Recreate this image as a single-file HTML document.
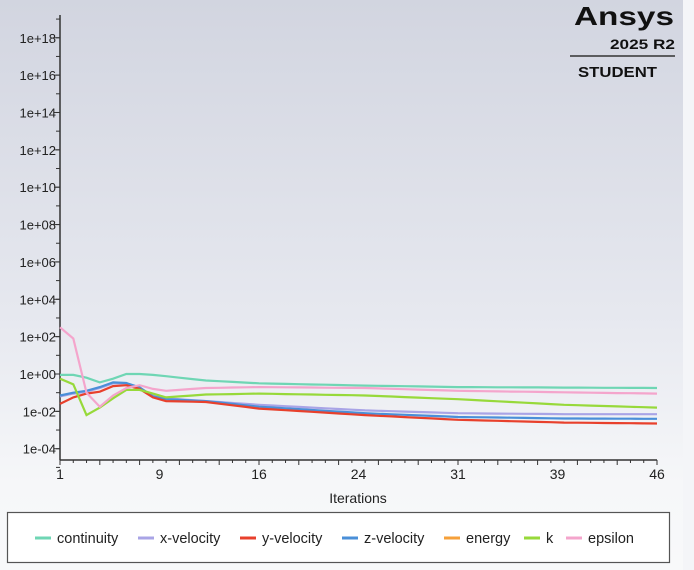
<!DOCTYPE html>
<html><head><meta charset="utf-8"><style>
body{margin:0;width:694px;height:570px;overflow:hidden;background:#f4f5f8;font-family:"Liberation Sans",sans-serif}
#bg{position:absolute;left:0;top:0;width:683px;height:570px;background:linear-gradient(#d2d5e0 0%,#e6e8ef 55%,#f6f7f9 85%,#f8f9fa 100%)}
svg{position:absolute;left:0;top:0}
</style></head><body><div id="bg"></div>
<svg id="s" width="694" height="570" xmlns="http://www.w3.org/2000/svg" font-family="Liberation Sans, sans-serif">
<text x="574" y="25" font-size="26" font-weight="bold" fill="#111" textLength="100" lengthAdjust="spacingAndGlyphs">Ansys</text>
<text x="610" y="49" font-size="14" font-weight="bold" fill="#111" textLength="65" lengthAdjust="spacingAndGlyphs">2025 R2</text>
<line x1="570" y1="56" x2="675" y2="56" stroke="#333" stroke-width="1.5"/>
<text x="578" y="77" font-size="15" font-weight="bold" fill="#111" textLength="79" lengthAdjust="spacingAndGlyphs">STUDENT</text>
<text x="358" y="503" font-size="14" text-anchor="middle" fill="#222">Iterations</text>
<rect x="7.5" y="512.5" width="662" height="50" fill="#fff" stroke="#555" stroke-width="1.2"/>
<g id="g"></g>
</svg>
<script>
var g=document.getElementById('g'),h='';
var X=function(i){return 60+(i-1)*597/45};
var Y=function(l){return 374-l*18.68};
h+='<line x1="60" y1="15" x2="60" y2="460" stroke="#333" stroke-width="1.5"/>';
h+='<line x1="60" y1="460" x2="657" y2="460" stroke="#333" stroke-width="1.5"/>';
for(var d=-5;d<=19;d++){var y=Y(d);if(y<15)continue;h+='<line x1="56" y1="'+y+'" x2="60" y2="'+y+'" stroke="#333"/>';
if(d%2==0&&d>=-4&&d<=18){h+='<line x1="54" y1="'+y+'" x2="60" y2="'+y+'" stroke="#333"/>';var s=(d<0?'-':'+')+(Math.abs(d)<10?'0':'')+Math.abs(d);h+='<text x="56" y="'+(y+5)+'" font-size="13" text-anchor="end" fill="#222">1e'+s+'</text>';}}
var lab=[1,9,16,24,31,39,46];for(var k=0;k<7;k++){var x=60+k*99.5;h+='<text x="'+x+'" y="479" font-size="14" text-anchor="middle" fill="#222">'+lab[k]+'</text>';}
for(var i=1;i<=46;i++){h+='<line x1="'+X(i)+'" y1="460" x2="'+X(i)+'" y2="'+(i%3==1?465:463)+'" stroke="#333"/>';}
function interp(p){var r=[];for(var i=1;i<=46;i++){for(var j=0;j<p.length-1;j++){if(i>=p[j][0]&&i<=p[j+1][0]){var t=(i-p[j][0])/(p[j+1][0]-p[j][0]);r.push([X(i),Y(p[j][1]+t*(p[j+1][1]-p[j][1]))]);break;}}}return r;}
function line(p,c){h+='<polyline fill="none" stroke="'+c+'" stroke-width="2.2" points="'+interp(p).map(function(a){return a[0].toFixed(1)+','+a[1].toFixed(1)}).join(' ')+'"/>';}
line([[1,-0.05],[2,-0.05],[3,-0.2],[4,-0.45],[5,-0.25],[6,0.0],[7,0.0],[8,-0.05],[9,-0.12],[12,-0.35],[16,-0.5],[24,-0.62],[31,-0.7],[46,-0.75]],'#6fd6b4');
line([[1,-1.2],[2,-1.05],[3,-0.95],[4,-0.75],[5,-0.5],[6,-0.5],[7,-0.75],[8,-1.15],[9,-1.3],[12,-1.45],[16,-1.65],[24,-1.95],[31,-2.1],[39,-2.15],[46,-2.15]],'#a9a4e6');
line([[1,-1.15],[2,-1.0],[3,-0.9],[4,-0.7],[5,-0.45],[6,-0.48],[7,-0.72],[8,-1.2],[9,-1.35],[12,-1.45],[16,-1.75],[24,-2.1],[31,-2.3],[39,-2.38],[46,-2.4]],'#4a8fd8');
line([[1,-1.6],[2,-1.25],[3,-1.05],[4,-0.95],[5,-0.65],[6,-0.6],[7,-0.8],[8,-1.25],[9,-1.45],[12,-1.5],[16,-1.85],[24,-2.2],[31,-2.45],[39,-2.6],[46,-2.65]],'#e8402c');
line([[1,-0.25],[2,-0.55],[3,-2.2],[4,-1.8],[5,-1.3],[6,-0.85],[7,-0.85],[8,-1.05],[9,-1.25],[12,-1.1],[16,-1.05],[24,-1.15],[31,-1.35],[39,-1.65],[46,-1.8]],'#97d93a');
line([[1,2.5],[2,1.9],[3,-1.0],[4,-1.75],[5,-1.15],[6,-0.75],[7,-0.6],[8,-0.8],[9,-0.9],[12,-0.75],[16,-0.7],[24,-0.75],[31,-0.9],[46,-1.05]],'#f4a5cc');
var L=[['continuity','#6fd6b4',35],['x-velocity','#a9a4e6',138],['y-velocity','#e8402c',240],['z-velocity','#4a8fd8',342],['energy','#f6a03a',444],['k','#97d93a',524],['epsilon','#f4a5cc',566]];
L.forEach(function(l){h+='<line x1="'+l[2]+'" y1="538" x2="'+(l[2]+16)+'" y2="538" stroke="'+l[1]+'" stroke-width="3"/><text x="'+(l[2]+22)+'" y="543" font-size="14.5" fill="#222">'+l[0]+'</text>';});
g.innerHTML=h;
</script>
</body></html>
